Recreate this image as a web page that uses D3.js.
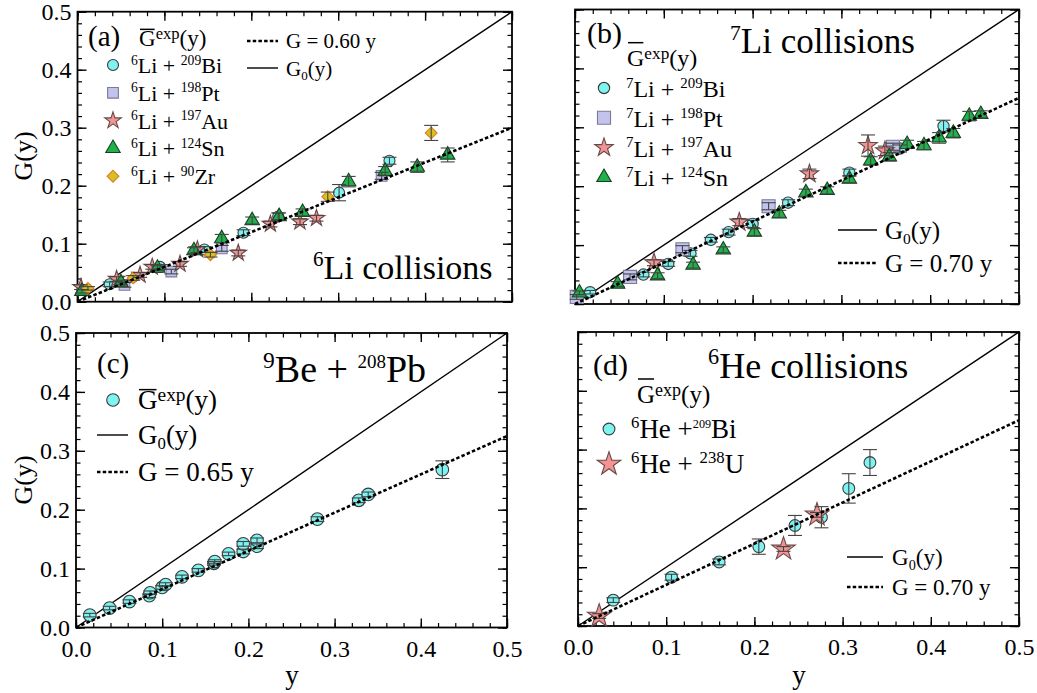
<!DOCTYPE html>
<html>
<head>
<meta charset="utf-8">
<script src="https://cdn.jsdelivr.net/npm/d3@7"></script>
<style>
  html, body { margin: 0; padding: 0; background: #fff; }
  svg { display: block; font-family: 'Liberation Serif', 'Times New Roman', serif; }
  svg text { font-family: 'Liberation Serif', 'Times New Roman', serif; }
</style>
</head>
<body>
<svg id="chart" width="1037" height="693"></svg>
<script>
// ---- data: [y, G, error] ----
const majorTicks = [0.0, 0.1, 0.2, 0.3, 0.4, 0.5];
const minorTicks = d3.range(0, 0.5001, 0.02);

// (a) 6Li collisions
const aBi = [[0.037,0.030,0.004],[0.095,0.060,0.004],[0.146,0.090,0.005],[0.191,0.119,0.005],[0.231,0.147,0.006],[0.301,0.188,0.014],[0.359,0.243,0.006]];
const aPt = [[0.054,0.029,0.004],[0.108,0.052,0.004],[0.166,0.092,0.005],[0.350,0.217,0.006]];
const aAu = [[0.004,0.025,0.004],[0.045,0.039,0.004],[0.072,0.046,0.004],[0.086,0.060,0.004],[0.118,0.065,0.004],[0.138,0.090,0.005],[0.185,0.084,0.005],[0.222,0.134,0.005],[0.256,0.138,0.005],[0.275,0.144,0.005]];
const aSn = [[0.005,0.018,0.003],[0.050,0.033,0.004],[0.092,0.058,0.004],[0.134,0.088,0.005],[0.166,0.109,0.007],[0.201,0.140,0.006],[0.232,0.147,0.006],[0.259,0.154,0.006],[0.312,0.207,0.009],[0.354,0.225,0.008],[0.391,0.232,0.009],[0.426,0.253,0.012]];
const aZr = [[0.012,0.023,0.003],[0.064,0.041,0.004],[0.153,0.081,0.004],[0.288,0.181,0.008],[0.407,0.291,0.013]];

// (b) 7Li collisions
const bBi = [[0.017,0.020,0.003],[0.077,0.050,0.004],[0.105,0.068,0.004],[0.130,0.086,0.005],[0.153,0.109,0.004],[0.173,0.122,0.005],[0.200,0.136,0.006],[0.240,0.172,0.005],[0.309,0.223,0.006],[0.366,0.264,0.006],[0.415,0.302,0.010]];
const bPt = [[0.002,0.012,0.004],[0.062,0.046,0.005],[0.121,0.093,0.006],[0.218,0.166,0.006],[0.358,0.267,0.006]];
const bAu = [[0.089,0.070,0.005],[0.185,0.139,0.006],[0.264,0.221,0.008],[0.330,0.269,0.018],[0.349,0.260,0.008]];
const bSn = [[0.005,0.019,0.003],[0.048,0.034,0.004],[0.093,0.048,0.005],[0.133,0.066,0.005],[0.167,0.092,0.005],[0.202,0.122,0.006],[0.230,0.153,0.006],[0.260,0.189,0.006],[0.284,0.193,0.006],[0.309,0.212,0.006],[0.333,0.243,0.007],[0.354,0.250,0.007],[0.374,0.271,0.007],[0.393,0.269,0.007],[0.410,0.282,0.009],[0.426,0.290,0.008],[0.444,0.319,0.008],[0.457,0.322,0.006]];

// (c) 9Be + 208Pb
const cBe = [[0.016,0.021,0.003],[0.039,0.033,0.003],[0.062,0.044,0.003],[0.085,0.054,0.003],[0.086,0.059,0.003],[0.100,0.068,0.003],[0.104,0.073,0.003],[0.123,0.086,0.003],[0.142,0.097,0.003],[0.160,0.109,0.003],[0.161,0.112,0.003],[0.177,0.125,0.003],[0.194,0.129,0.004],[0.194,0.142,0.004],[0.210,0.138,0.004],[0.210,0.148,0.004],[0.280,0.184,0.004],[0.328,0.216,0.004],[0.339,0.226,0.004],[0.425,0.268,0.015]];

// (d) 6He collisions
const dBi = [[0.040,0.044,0.004],[0.106,0.083,0.005],[0.160,0.109,0.005],[0.205,0.135,0.013],[0.246,0.171,0.017],[0.276,0.185,0.018],[0.307,0.234,0.025],[0.331,0.278,0.022]];
const dU  = [[0.024,0.017,0.004],[0.233,0.131,0.004],[0.271,0.189,0.004]];

const slopes = { a: 0.60, b: 0.70, c: 0.65, d: 0.70 };

// ---- styles ----
const STY = {
  circle:   { fill: "#7ff3f0", stroke: "#3a3a3a" },
  square:   { fill: "#c3c3ee", stroke: "#7a7a96" },
  star:     { fill: "#f29494", stroke: "#6a4848" },
  triangle: { fill: "#1fb24a", stroke: "#14401f" },
  diamond:  { fill: "#d0c422", stroke: "#e8781e" }
};

const svg = d3.select("#chart");
const FONT = "'Liberation Serif', 'Times New Roman', serif";

function symbolPath(shape, size) {
  const map = { circle: d3.symbolCircle, square: d3.symbolSquare, star: d3.symbolStar,
                triangle: d3.symbolTriangle, diamond: d3.symbolSquare };
  return d3.symbol().type(map[shape]).size(size)();
}
// diamonds are squares turned by 45 degrees
const turn = shape => shape === "diamond" ? " rotate(45)" : "";

// text with superscripts / subscripts
function rich(g, x, y, size, parts, anchor) {
  const t = g.append("text").attr("x", x).attr("y", y)
    .attr("font-size", size).style("font-family", FONT)
    .attr("text-anchor", anchor || "start").attr("fill", "#000");
  let cur = 0;
  parts.forEach(p => {
    const s = t.append("tspan").text(p.t);
    let off = 0;
    if (p.sup) { off = -(p.r || 0.38) * size; s.attr("font-size", size * (p.k || 0.62)); }
    if (p.sub) { off = 0.2 * size; s.attr("font-size", size * 0.62); }
    s.attr("dy", off - cur);
    cur = off;
  });
  return t;
}

// G with an overbar, followed by superscript "exp" and "(y)"
function gExp(g, x, y, size, barGap) {
  const t = rich(g, x, y, size, [{ t: "G" }, { t: "exp", sup: true, k: 0.72, r: 0.3 }, { t: "(y)" }]);
  const gw = t.node().getSubStringLength(0, 1);
  g.append("line").attr("x1", x + 1).attr("x2", x + gw - 1)
    .attr("y1", y - size * 0.68 - barGap).attr("y2", y - size * 0.68 - barGap)
    .attr("stroke", "#000").attr("stroke-width", 1.5);
}

function panel(cfg) {
  const g = svg.append("g");
  const x = d3.scaleLinear().domain([0, 0.5]).range([cfg.x0, cfg.x1]);
  const y = d3.scaleLinear().domain([0, 0.5]).range([cfg.y0, cfg.y1]);
  const fmt = d3.format(".1f");
  const blank = () => "";

  // axes with inward ticks on all four sides
  const axes = [
    { ax: d3.axisBottom(x), tr: `translate(0,${cfg.y0})`, lab: cfg.xLabels, pad: 12 },
    { ax: d3.axisTop(x),    tr: `translate(0,${cfg.y1})`, lab: false, pad: 0 },
    { ax: d3.axisLeft(y),   tr: `translate(${cfg.x0},0)`, lab: cfg.yLabels, pad: 6 },
    { ax: d3.axisRight(y),  tr: `translate(${cfg.x1},0)`, lab: false, pad: 0 }
  ];
  axes.forEach(a => {
    g.append("g").attr("transform", a.tr)
      .call(a.ax.tickValues(minorTicks).tickSize(-4.5).tickFormat(blank))
      .call(s => s.select(".domain").remove())
      .call(s => s.selectAll("line").attr("stroke", "#000").attr("stroke-width", 1.2));
    g.append("g").attr("transform", a.tr)
      .call(a.ax.tickValues(majorTicks).tickSize(-9).tickPadding(a.pad)
        .tickFormat(a.lab ? fmt : blank))
      .call(s => s.select(".domain").remove())
      .call(s => s.selectAll("line").attr("stroke", "#000").attr("stroke-width", 1.4))
      .call(s => s.selectAll("text").style("font-family", FONT).attr("font-size", 24).attr("fill", "#000"));
  });

  g.append("rect").attr("x", cfg.x0).attr("y", cfg.y1)
    .attr("width", cfg.x1 - cfg.x0).attr("height", cfg.y0 - cfg.y1)
    .attr("fill", "none").attr("stroke", "#000").attr("stroke-width", 1.8);

  // G0(y) = y
  g.append("line").attr("x1", x(0)).attr("y1", y(0)).attr("x2", x(0.5)).attr("y2", y(0.5))
    .attr("stroke", "#000").attr("stroke-width", 1.4);

  // series markers
  cfg.series.forEach(s => {
    const st = STY[s.shape];
    g.append("g").selectAll("path").data(s.data).join("path")
      .attr("d", symbolPath(s.shape, s.size))
      .attr("transform", d => `translate(${x(d[0])},${y(d[1])})` + turn(s.shape))
      .attr("fill", st.fill).attr("stroke", st.stroke).attr("stroke-width", 1.1);
  });
  // error bars
  cfg.series.forEach(s => {
    const eb = g.append("g").attr("stroke", "#444").attr("stroke-width", 1.1);
    s.data.forEach(d => {
      const cx = x(d[0]), lo = y(d[1] - d[2]), hi = y(d[1] + d[2]);
      eb.append("line").attr("x1", cx).attr("x2", cx).attr("y1", lo).attr("y2", hi);
      [lo, hi].forEach(v => eb.append("line").attr("x1", cx - 7).attr("x2", cx + 7).attr("y1", v).attr("y2", v));
    });
  });

  // G = k y
  g.append("line").attr("x1", x(0)).attr("y1", y(0)).attr("x2", x(0.5)).attr("y2", y(0.5 * cfg.slope))
    .attr("stroke", "#000").attr("stroke-width", 2.6).attr("stroke-dasharray", "3.5,2.2");

  return g;
}

function legendMarker(g, shape, size, cx, cy) {
  const st = STY[shape];
  g.append("path").attr("d", symbolPath(shape, size)).attr("transform", `translate(${cx},${cy})` + turn(shape))
    .attr("fill", st.fill).attr("stroke", st.stroke).attr("stroke-width", 1.1);
}
function legendLine(g, x1, x2, yy, dotted) {
  const l = g.append("line").attr("x1", x1).attr("x2", x2).attr("y1", yy).attr("y2", yy)
    .attr("stroke", "#000");
  if (dotted) l.attr("stroke-width", 2.6).attr("stroke-dasharray", "3.5,2.2");
  else l.attr("stroke-width", 1.4);
}

// ---------- (a) ----------
const gA = panel({ x0: 77.5, x1: 512, y0: 301.7, y1: 11.7, slope: slopes.a, xLabels: false, yLabels: true,
  series: [
    { data: aBi, shape: "circle", size: 95 },
    { data: aPt, shape: "square", size: 115 },
    { data: aAu, shape: "star", size: 85 },
    { data: aSn, shape: "triangle", size: 90 },
    { data: aZr, shape: "diamond", size: 70 }
  ] });
rich(gA, 88, 46, 29, [{ t: "(a)" }]);
gExp(gA, 139, 46, 23, 1);
const aRows = [
  ["circle", 95, "209", "Bi"], ["square", 115, "198", "Pt"], ["star", 85, "197", "Au"],
  ["triangle", 90, "124", "Sn"], ["diamond", 70, "90", "Zr"]
];
aRows.forEach((r, i) => {
  const yy = 65 + i * 27.8;
  legendMarker(gA, r[0], r[1], 113, yy);
  rich(gA, 131, yy + 8, 22, [{ t: "6", sup: true }, { t: "Li + " }, { t: r[2], sup: true }, { t: r[3] }]);
});
legendLine(gA, 247, 278, 41, true);
rich(gA, 286, 48, 21, [{ t: "G = 0.60 y" }]);
legendLine(gA, 247, 278, 68, false);
rich(gA, 286, 76, 21, [{ t: "G" }, { t: "0", sub: true }, { t: "(y)" }]);
rich(gA, 313, 279, 34, [{ t: "6", sup: true }, { t: "Li collisions" }]);

// ---------- (b) ----------
const gB = panel({ x0: 575, x1: 1019, y0: 304, y1: 9.5, slope: slopes.b, xLabels: false, yLabels: false,
  series: [
    { data: bBi, shape: "circle", size: 100 },
    { data: bPt, shape: "square", size: 170 },
    { data: bAu, shape: "star", size: 105 },
    { data: bSn, shape: "triangle", size: 90 }
  ] });
rich(gB, 587, 43, 30, [{ t: "(b)" }]);
gExp(gB, 627, 66, 24, 7);
rich(gB, 730, 53, 35, [{ t: "7", sup: true }, { t: "Li collisions" }]);
const bRows = [["circle", 100, "209", "Bi"], ["square", 170, "198", "Pt"], ["star", 105, "197", "Au"], ["triangle", 90, "124", "Sn"]];
bRows.forEach((r, i) => {
  const yy = 88 + i * 29.8;
  legendMarker(gB, r[0], r[1], 604, yy);
  rich(gB, 626, yy + 9, 24, [{ t: "7", sup: true }, { t: "Li + " }, { t: r[2], sup: true }, { t: r[3] }]);
});
legendLine(gB, 838, 877, 230, false);
rich(gB, 885, 239, 25, [{ t: "G" }, { t: "0", sub: true }, { t: "(y)" }]);
legendLine(gB, 838, 877, 263, true);
rich(gB, 885, 272, 25, [{ t: "G = 0.70 y" }]);

// ---------- (c) ----------
const gC = panel({ x0: 76, x1: 507, y0: 627.5, y1: 333, slope: slopes.c, xLabels: true, yLabels: true,
  series: [{ data: cBe, shape: "circle", size: 125 }] });
rich(gC, 97, 373, 29, [{ t: "(c)" }]);
rich(gC, 263, 382, 38, [{ t: "9", sup: true }, { t: "Be + " }, { t: "208", sup: true, k: 0.5 }, { t: "Pb" }]);
legendMarker(gC, "circle", 125, 113, 400);
gExp(gC, 138, 409, 27, 1);
legendLine(gC, 97, 128, 435, false);
rich(gC, 138, 444, 27, [{ t: "G" }, { t: "0", sub: true }, { t: "(y)" }]);
legendLine(gC, 97, 128, 472, true);
rich(gC, 138, 481, 27, [{ t: "G = 0.65 y" }]);

// ---------- (d) ----------
const gD = panel({ x0: 578, x1: 1019, y0: 626, y1: 332, slope: slopes.d, xLabels: true, yLabels: false,
  series: [
    { data: dBi, shape: "circle", size: 110 },
    { data: dU, shape: "star", size: 170 }
  ] });
rich(gD, 593, 375, 30, [{ t: "(d)" }]);
rich(gD, 708, 378, 36, [{ t: "6", sup: true }, { t: "He collisions" }]);
gExp(gD, 637, 403, 25, 7);
legendMarker(gD, "circle", 110, 609, 429);
rich(gD, 631, 438, 27, [{ t: "6", sup: true }, { t: "He +" }, { t: "209", sup: true, k: 0.45 }, { t: "Bi" }]);
legendMarker(gD, "star", 170, 609, 464);
rich(gD, 631, 473, 27, [{ t: "6", sup: true }, { t: "He + " }, { t: "238", sup: true }, { t: "U" }]);
legendLine(gD, 847, 883, 557, false);
rich(gD, 892, 565, 23, [{ t: "G" }, { t: "0", sub: true }, { t: "(y)" }]);
legendLine(gD, 847, 883, 587, true);
rich(gD, 892, 595, 23, [{ t: "G = 0.70 y" }]);

// ---------- axis titles ----------
[156, 480].forEach(cy => {
  svg.append("text").attr("transform", `translate(32,${cy}) rotate(-90)`)
    .attr("text-anchor", "middle").style("font-family", FONT).attr("font-size", 26).text("G(y)");
});
[292, 799].forEach(cx => {
  svg.append("text").attr("x", cx).attr("y", 684).attr("text-anchor", "middle")
    .style("font-family", FONT).attr("font-size", 27).text("y");
});
</script>
</body>
</html>
